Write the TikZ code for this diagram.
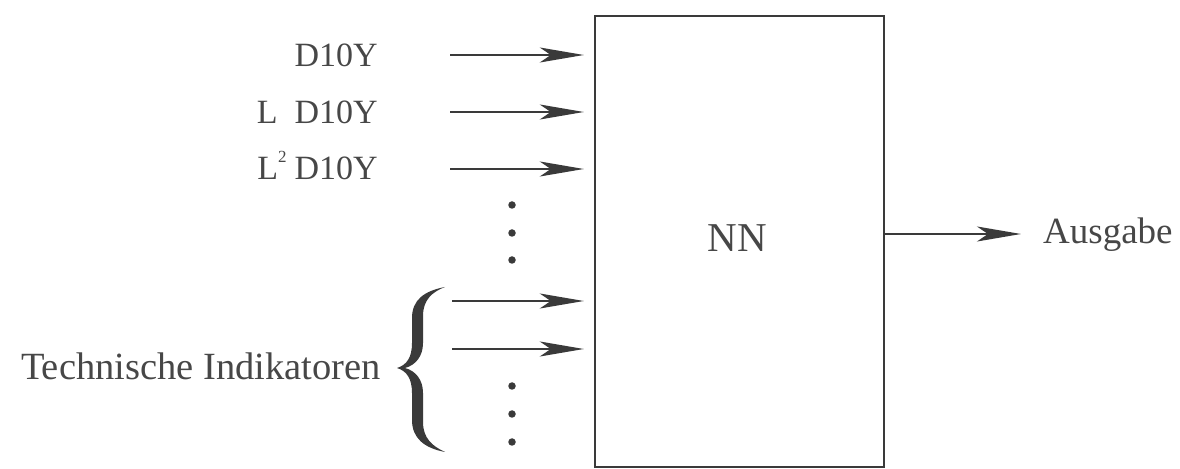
\documentclass[tikz,border=0pt]{standalone}
\usepackage{fontspec}
\setmainfont{Liberation Serif}
\usetikzlibrary{arrows.meta}
\definecolor{ink}{HTML}{3A3A3A}
\definecolor{txt}{HTML}{474747}
\newcommand{\lagsup}[1]{\raisebox{0.5em}{\fontsize{17bp}{18bp}\selectfont #1}}
\begin{document}
\begin{tikzpicture}[x=1bp,y=-1bp,
  wire/.style={draw=ink,line width=2bp},
  feed/.style={wire,-{Stealth[length=44bp,width=15bp,inset=11bp]}},
  lbl/.style={text=txt,inner sep=0pt,font=\fontsize{34bp}{40bp}\selectfont},
  dot/.style={circle,fill=ink,inner sep=0pt,minimum size=7.5bp}]
\useasboundingbox (0,0) rectangle (1180,469);

% network block
\node[draw=ink,line width=2.4bp,minimum width=289bp,minimum height=451bp,inner sep=0pt]
  (nn) at (739.5,241.5) {};
\node[lbl,anchor=base,font=\fontsize{41bp}{46bp}\selectfont] (nnlabel) at (737,252) {NN};

% lagged inputs
\node[lbl,anchor=base east] (in1) at (378,67) {D10Y};
\node[lbl,anchor=base east] (in2) at (378,124) {L\enspace D10Y};
\node[lbl,anchor=base east] (in3) at (378,180) {L\lagsup{2}\hspace{8bp}D10Y};

\coordinate (s1) at (450,55);
\coordinate (s2) at (450,112);
\coordinate (s3) at (450,169);
\coordinate (s4) at (452,301);
\coordinate (s5) at (452,349);
\foreach \i in {1,...,5}
  \draw[feed,shorten >=10bp] (s\i) -- (s\i -| nn.west);

% ellipsis dots
\node[dot] (d1) at (512,205) {};
\node[dot] (d2) at (512,233) {};
\node[dot] (d3) at (512,260) {};
\node[dot] (d4) at (512,386) {};
\node[dot] (d5) at (512,414) {};
\node[dot] (d6) at (512,442) {};

% technical indicators with brace
\node[lbl,anchor=base east,font=\fontsize{38.5bp}{44bp}\selectfont] (ti) at (381,380) {Technische Indikatoren};
\fill[ink] (445,287)
  .. controls (424,291) and (412,300) .. (412,318) -- (412,343)
  .. controls (412,357) and (407,365) .. (397,368)
  .. controls (407,371) and (412,379) .. (412,393) -- (412,420)
  .. controls (412,438) and (424,448) .. (445,452)
  .. controls (432,446) and (423,438) .. (423,422) -- (423,393)
  .. controls (423,380) and (416,371) .. (405,368)
  .. controls (416,365) and (423,356) .. (423,343) -- (423,316)
  .. controls (423,300) and (432,292) .. (445,287) -- cycle;

% output
\node[lbl,anchor=base west,font=\fontsize{37bp}{42bp}\selectfont] (out) at (1043,244) {Ausgabe};
\coordinate (o) at (1021,234);
\draw[feed] (nn.east |- o) -- (o);
\end{tikzpicture}
\end{document}
